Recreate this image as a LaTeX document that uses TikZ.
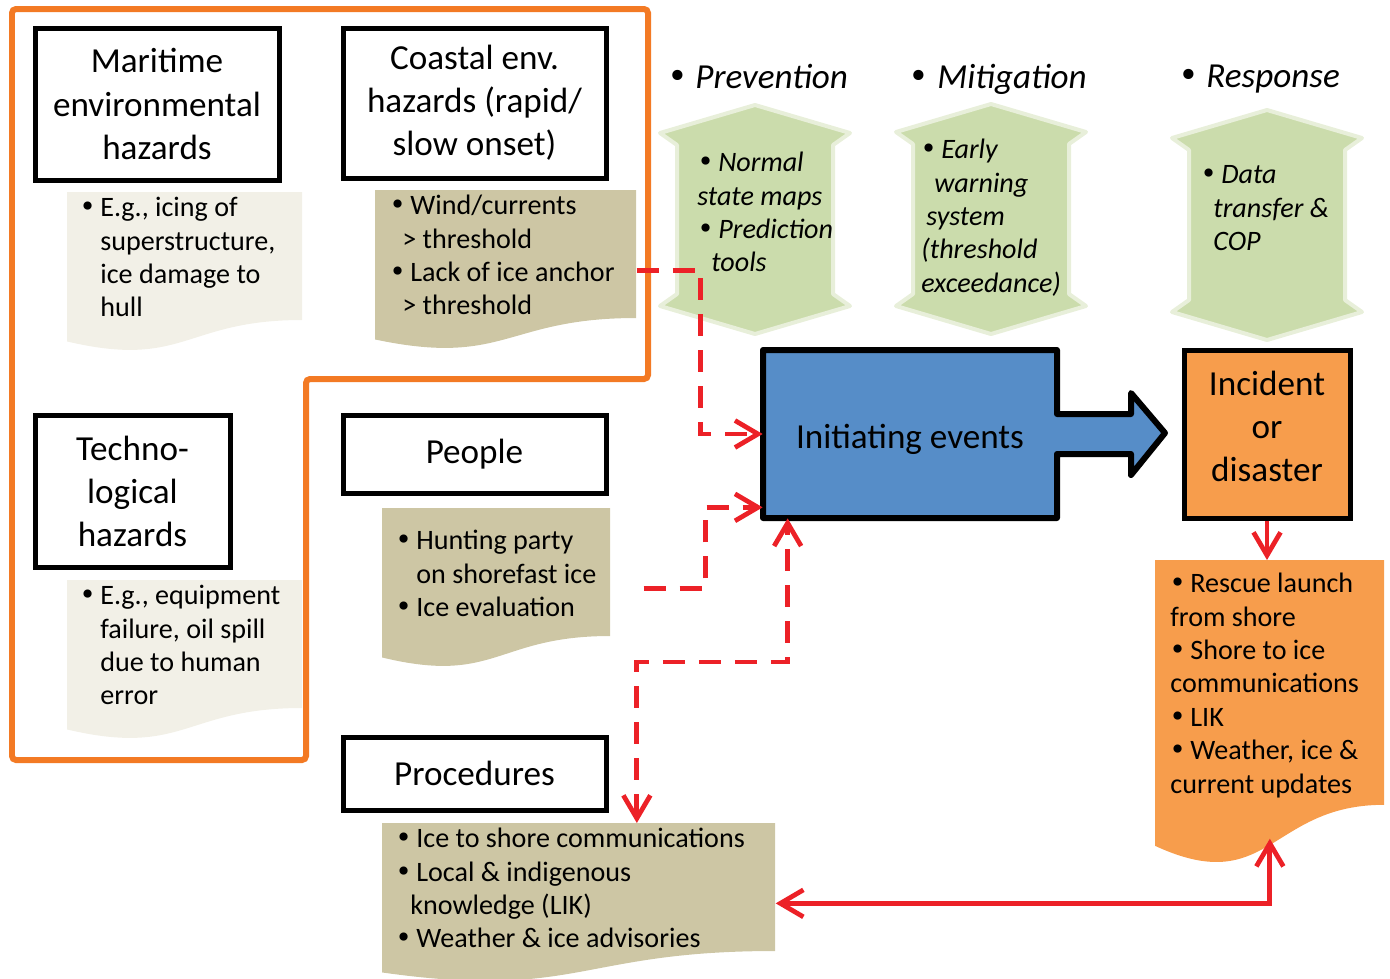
\documentclass[tikz,border=0pt]{standalone}
\usepackage{fontspec}
\setmainfont{Carlito}
\newfontfamily\bulletfont{DejaVu Sans}
\usetikzlibrary{arrows.meta}

\newlength\px
\setlength\px{0.02cm}
\newcommand\bigfont{\fontsize{20}{24.5}\selectfont}
\newcommand\smallfont{\fontsize{16}{19}\selectfont}
\newcommand\bul{\makebox[16\px][l]{\hspace*{-5\px}{\bulletfont\upshape\textbullet}}}
\newcommand\bigbul[1]{\makebox[#1\px][l]{\hspace*{-5\px}{\bulletfont\upshape\textbullet}}}
\newcommand\ind[1]{\hspace*{#1\px}}

\definecolor{frameorange}{RGB}{243,122,36}
\definecolor{palenote}{RGB}{242,240,231}
\definecolor{tannote}{RGB}{205,198,164}
\definecolor{leafgreen}{RGB}{203,220,172}
\definecolor{eventblue}{RGB}{86,141,200}
\definecolor{incidentorange}{RGB}{247,157,76}
\definecolor{linkred}{RGB}{236,33,39}

% document shape: name, colour, x, y, width, height
\newcommand\docnote[6]{%
  \fill[#2] (#3,#4) -- ({#3+#5},#4) -- ({#3+#5},{#4+0.8*#6})
    .. controls ({#3+0.5*#5},{#4+0.8*#6}) and ({#3+0.5*#5},{#4+1.107*#6}) .. (#3,{#4+0.934*#6}) -- cycle;
  \node[inner sep=0pt, minimum width=#5\px, minimum height=#6\px, anchor=north west] (#1) at (#3,#4) {};
}
% up-down arrow: centre x, top tip, bottom tip
\newcommand\updown[3]{%
  \filldraw[fill=leafgreen, draw=leafgreen!45!white, line width=4\px, line join=round]
    (#1,#2) -- ({#1+95},{#2+28}) -- ({#1+78},{#2+40}) -- ({#1+78},{#3-40}) -- ({#1+95},{#3-28})
    -- (#1,#3) -- ({#1-95},{#3-28}) -- ({#1-78},{#3-40}) -- ({#1-78},{#2+40}) -- ({#1-95},{#2+28}) -- cycle;
}

\begin{document}
\begin{tikzpicture}[x=\px, y=-\px, >={Straight Barb[length=0.46cm,width=0.54cm]},
  hazbox/.style={draw, line width=0.1cm, inner sep=0pt, align=center, font=\bigfont},
  notetext/.style={anchor=north west, inner sep=0pt, align=left, font=\smallfont},
  phase/.style={anchor=base west, inner sep=0pt, font=\bigfont\itshape},
  redlink/.style={draw=linkred, line width=0.095cm},
  dashlink/.style={redlink, dash pattern=on 0.44cm off 0.28cm}]
\useasboundingbox (0,0) rectangle (1390,978);

% hazard frame
\draw[frameorange, line width=0.12cm, rounded corners=0.08cm] (12,9) -- (648,9) -- (648,379) -- (306,379) -- (306,760) -- (12,760) -- cycle;

% notes
\docnote{maritimenote}{palenote}{67}{192}{235}{160}
\docnote{coastalnote}{tannote}{375}{190}{261}{160}
\docnote{technonote}{palenote}{67}{580}{235}{160}
\docnote{peoplenote}{tannote}{382}{508}{228}{160}
\docnote{procnote}{tannote}{382}{823}{393}{160}
\docnote{respnote}{incidentorange}{1155}{560}{229}{306}

% hazard sources
\node[hazbox, minimum width=244\px, minimum height=152\px] (maritime) at (157,104) {Maritime\\environmental\\hazards};
\node[hazbox, minimum width=263\px, minimum height=150\px] (coastal) at (474.5,103) {Coastal env.\\hazards (rapid/\\slow onset)};
\node[hazbox, minimum width=195\px, minimum height=152\px] (techno) at (132.5,491) {Techno-\\logical\\hazards};
\node[hazbox, minimum width=263\px, minimum height=78\px] (people) at (474.5,454) {People};
\node[hazbox, minimum width=263\px, minimum height=73\px] (procedures) at (474.5,773.5) {Procedures};

\node[notetext] (maritimetxt) at (84,193) {\strut\bul E.g., icing of\\\ind{16}superstructure,\\\ind{16}ice damage to\\\ind{16}hull};
\node[notetext] (coastaltxt) at (391,191) {\strut\ind{3}\bul Wind/currents\\\ind{11}> threshold\\\ind{3}\bul Lack of ice anchor\\\ind{11}> threshold};
\node[notetext] (technotxt) at (84,581) {\strut\bul E.g., equipment\\\ind{16}failure, oil spill\\\ind{16}due to human\\\ind{16}error};
\node[notetext] (peopletxt) at (400,526) {\strut\bul Hunting party\\\ind{16}on shorefast ice\\\bul Ice evaluation};
\node[notetext] (proctxt) at (400,824) {\strut\bul Ice to shore communications\\\bul Local \& indigenous\\\ind{10}knowledge (LIK)\\\bul Weather \& ice advisories};
\node[notetext] (resptxt) at (1170,569) {\strut\ind{4}\bul Rescue launch\\from shore\\\ind{4}\bul Shore to ice\\communications\\\ind{4}\bul LIK\\\ind{4}\bul Weather, ice \&\\current updates};

% phases
\node[phase] (prevention) at (672,88) {\bigbul{23}Prevention};
\node[phase] (mitigation) at (913,88) {\bigbul{24}Mitigation};
\node[phase] (response) at (1183,87) {\bigbul{23}Response};

\updown{755}{105}{334}
\updown{991}{104}{334}
\updown{1267}{110}{340}

\node[notetext, font=\smallfont\itshape] (preventtxt) at (697,148) {\strut\ind{5}\bul Normal\\state maps\\\ind{5}\bul Prediction\\\ind{14}tools};
\node[notetext, font=\smallfont\itshape] (mitigtxt) at (921,135) {\strut\ind{4}\bul Early\\\ind{13}warning\\\ind{5}system\\(threshold\\exceedance)};
\node[notetext, font=\smallfont\itshape] (responsetxt) at (1205,160) {\strut\bul Data\\\ind{8}transfer \&\\\ind{8}COP};

% events
\draw[fill=eventblue, line width=0.12cm, line join=round] (763,350) -- (1057,350) -- (1057,414) -- (1131,414) -- (1131,393) -- (1165,433) -- (1131,475) -- (1131,454) -- (1057,454) -- (1057,518) -- (763,518) -- cycle;
\node[inner sep=0pt, minimum width=294\px, minimum height=168\px, text height=16pt, text depth=0pt, font=\bigfont] (init) at (910,434) {Initiating events};
\node[hazbox, fill=incidentorange, minimum width=166\px, minimum height=168\px, text depth=9pt] (incident) at (1267,434) {Incident\\or\\disaster};

% links
\draw[dashlink, ->] (coastalnote.east) -- ++(64,0) |- (init.west);
\draw[dashlink, ->] ([xshift=0.66cm]peoplenote.east) -- ++(62,0) |- ([yshift=0.22cm]init.south west);
\draw[dashlink, <->] ([xshift=1.16cm]procnote.north) -- ++(0,-161) -| ([xshift=0.5cm]init.south west);
\draw[redlink, ->] (incident.south) -- (incident.south |- respnote.north);
\draw[redlink, <->] (procnote.east) -| ([yshift=0.56cm]respnote.south);
\end{tikzpicture}
\end{document}
